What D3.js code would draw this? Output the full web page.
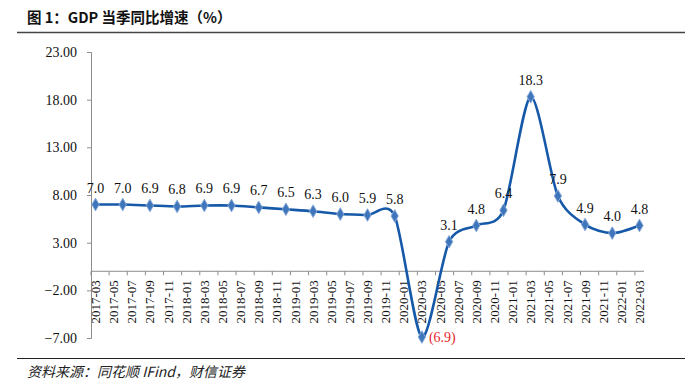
<!DOCTYPE html>
<html><head><meta charset="utf-8">
<script src="https://cdn.jsdelivr.net/npm/d3@7"></script>
<style>
html,body{margin:0;padding:0;background:#fff;}
svg{display:block;}
</style></head>
<body>
<svg id="c" width="695" height="385"></svg>
<script>
// Data
const quarters = ["2017-03","2017-06","2017-09","2017-12","2018-03","2018-06","2018-09","2018-12",
  "2019-03","2019-06","2019-09","2019-12","2020-03","2020-06","2020-09","2020-12",
  "2021-03","2021-06","2021-09","2021-12","2022-03"];
const gdpGrowth = [7.0,7.0,6.9,6.8,6.9,6.9,6.7,6.5,6.3,6.0,5.9,5.8,-6.9,3.1,4.8,6.4,18.3,7.9,4.9,4.0,4.8];
const yTicks = [-7,-2,3,8,13,18,23];
const xTickLabels = ["2017-03","2017-05","2017-07","2017-09","2017-11","2018-01","2018-03","2018-05","2018-07","2018-09","2018-11",
  "2019-01","2019-03","2019-05","2019-07","2019-09","2019-11","2020-01","2020-03","2020-05","2020-07","2020-09","2020-11",
  "2021-01","2021-03","2021-05","2021-07","2021-09","2021-11","2022-01","2022-03"];
const titleText = "图 1：GDP 当季同比增速（%）";
const sourceText = "资料来源：同花顺 IFind，财信证券";

const svg = d3.select("#c");
const serif = "'Liberation Serif','Times New Roman',serif";
const cjk = "'Noto Sans CJK SC','Liberation Serif',sans-serif";

const monthIdx = s => { const [yy,mm] = s.split("-").map(Number); return (yy-2017)*12 + (mm-3); };
const allMonths = d3.range(0, 61);

const x = d3.scaleBand().domain(allMonths).range([91, 644]).paddingInner(0).paddingOuter(0);
const xc = m => x(m) + x.bandwidth()/2;
const y = d3.scaleLinear().domain([-7, 23]).range([338, 52]);

// Title
svg.append("text").attr("x", 27).attr("y", 23)
  .attr("font-family", cjk).attr("font-weight", "bold").attr("font-size", 14.5)
  .attr("fill", "#111").text(titleText);
svg.append("line").attr("x1", 17).attr("x2", 685).attr("y1", 32.5).attr("y2", 32.5)
  .attr("stroke", "#444").attr("stroke-width", 1.5);

// Footer
svg.append("line").attr("x1", 17).attr("x2", 685).attr("y1", 358.5).attr("y2", 358.5)
  .attr("stroke", "#222").attr("stroke-width", 1.2);
svg.append("text").attr("x", 27).attr("y", 377)
  .attr("font-family", cjk).attr("font-style", "italic").attr("font-size", 14)
  .attr("fill", "#222").text(sourceText);

const axisColor = "#8c8c8c";

// Y axis
const yAxis = d3.axisLeft(y).tickValues(yTicks).tickFormat(d3.format(".2f")).tickSize(4).tickPadding(10);
const gy = svg.append("g").attr("transform", "translate(91,0)").call(yAxis);
gy.select(".domain").attr("stroke", axisColor);
gy.selectAll(".tick line").attr("stroke", axisColor);
gy.selectAll(".tick text").attr("font-family", serif).attr("font-size", 14).attr("fill", "#111");

// X axis at y=0
const labelMonths = xTickLabels.map(monthIdx);
const xAxis = d3.axisBottom(x).tickValues(labelMonths).tickSize(0).tickFormat(() => "");
const gx = svg.append("g").attr("transform", `translate(0,${y(0)})`).call(xAxis);
gx.select(".domain").attr("stroke", axisColor).attr("d", `M91,0H644`);
gx.selectAll(".tick").remove();
gx.selectAll("line.tk").data(labelMonths).enter().append("line")
  .attr("x1", d => x(d)).attr("x2", d => x(d)).attr("y1", 0).attr("y2", 4)
  .attr("stroke", axisColor);
gx.selectAll("text.lab").data(xTickLabels).enter().append("text")
  .attr("transform", d => `translate(${xc(monthIdx(d))},9) rotate(-90)`)
  .attr("text-anchor", "end").attr("dy", "0.35em")
  .attr("font-family", serif).attr("font-size", 13).attr("fill", "#111")
  .text(d => d);

// Line
const pts = quarters.map((q, i) => ({m: monthIdx(q), v: gdpGrowth[i]}));
const line = d3.line().x(d => xc(d.m)).y(d => y(d.v)).curve(d3.curveCardinal.tension(0.2));
svg.append("path").datum(pts).attr("d", line)
  .attr("fill", "none").attr("stroke", "#1659a8").attr("stroke-width", 2.6);

// markers
const sym = d3.symbol().type(d3.symbolDiamond).size(46);
svg.selectAll("path.mk").data(pts).enter().append("path")
  .attr("transform", d => `translate(${xc(d.m)},${y(d.v)})`)
  .attr("d", sym).attr("fill", "#3f75bb").attr("stroke", "#86a9d8").attr("stroke-width", 1);

// data labels
svg.selectAll("text.dl").data(pts).enter().append("text")
  .attr("x", d => d.v < 0 ? xc(d.m) + 7 : xc(d.m))
  .attr("y", d => d.v < 0 ? y(d.v) + 5 : y(d.v) - 12)
  .attr("text-anchor", d => d.v < 0 ? "start" : "middle")
  .attr("font-family", serif).attr("font-size", 14)
  .attr("fill", d => d.v < 0 ? "#e8262a" : "#111")
  .text(d => d.v < 0 ? `(${d3.format(".1f")(-d.v)})` : d3.format(".1f")(d.v));
</script>
</body></html>
